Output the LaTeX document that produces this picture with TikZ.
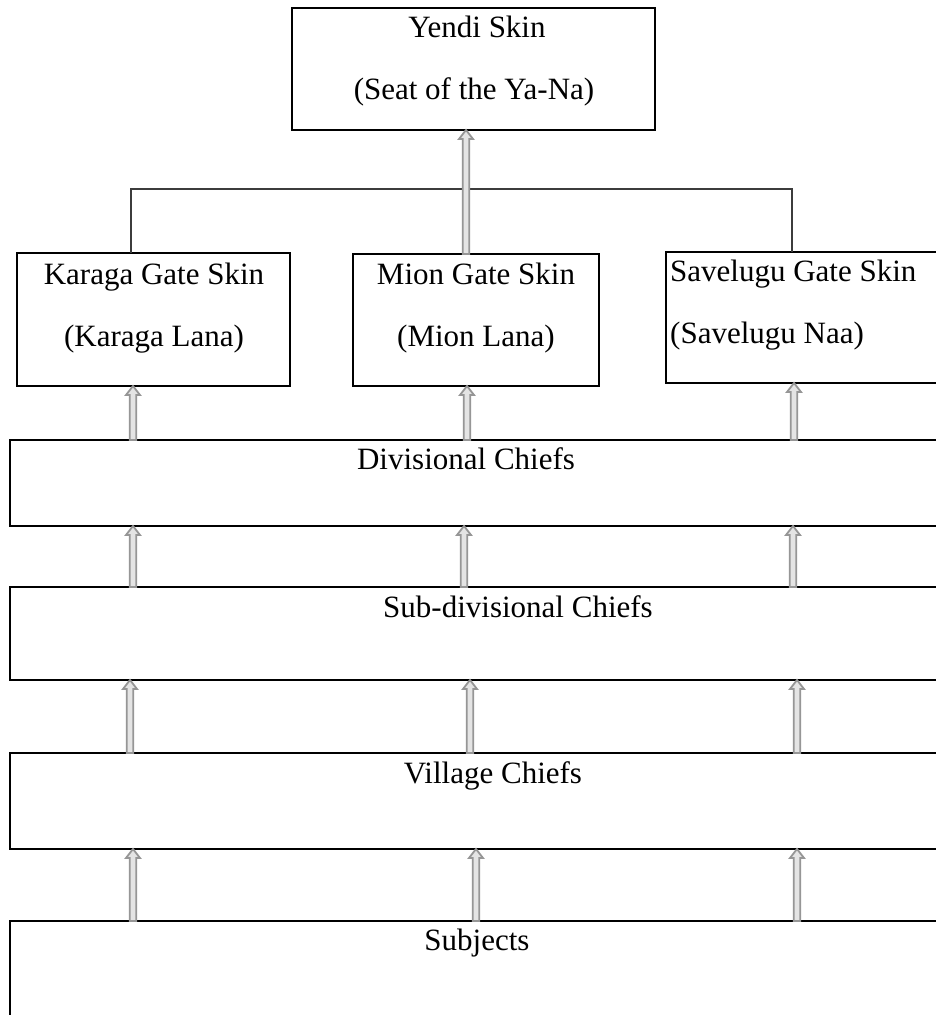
\documentclass[tikz,border=0pt]{standalone}
\usepackage{fontspec}
\setmainfont{Liberation Serif}
\usetikzlibrary{calc}
\definecolor{arrgray}{RGB}{150,150,150}
\definecolor{arrfill}{RGB}{228,228,228}
\definecolor{linegray}{RGB}{60,60,60}
\begin{document}
\begin{tikzpicture}[x=1pt,y=-1pt,
  box/.style={draw=black, line width=2pt, inner sep=0pt, outer sep=0pt, anchor=north west},
  lbl/.style={font=\fontsize{31}{36}\selectfont, inner sep=0pt, anchor=base},
  conn/.style={draw=linegray, line width=1.1pt},
  harrow/.style={draw=arrgray, fill=arrfill, line width=1.8pt, line join=miter,
    to path={let \p1=(\tikztostart), \p2=(\tikztotarget) in
      (\x1-3.2pt,\y1) -- (\x1-3.2pt,\y2-9pt) -- (\x1-7pt,\y2-9pt) -- (\x1,\y2)
      -- (\x1+7pt,\y2-9pt) -- (\x1+3.2pt,\y2-9pt) -- (\x1+3.2pt,\y1) -- cycle}}]
\useasboundingbox (0,0) rectangle (936,1015);
\clip (0,0) rectangle (936,1015);
\fill[white] (0,0) rectangle (936,1015);

% boxes
\node[box, minimum width=363pt, minimum height=122pt] (yendi) at (292,8) {};
\node[box, minimum width=273pt, minimum height=133pt] (karaga) at (17,253) {};
\node[box, minimum width=246pt, minimum height=132pt] (mion) at (353,254) {};
\node[box, minimum width=300pt, minimum height=131pt] (savelugu) at (666,252) {};
\node[box, minimum width=960pt, minimum height=86pt] (div) at (10,440) {};
\node[box, minimum width=960pt, minimum height=93pt] (sub) at (10,587) {};
\node[box, minimum width=960pt, minimum height=96pt] (village) at (10,753) {};
\node[box, minimum width=960pt, minimum height=150pt] (subjects) at (10,921) {};

% labels
\node[lbl] (yendi1) at (477,37) {Yendi Skin};
\node[lbl] (yendi2) at (474,99) {(Seat of the Ya-Na)};
\node[lbl] (kar1) at (154,284) {Karaga Gate Skin};
\node[lbl] (kar2) at (154,346) {(Karaga Lana)};
\node[lbl] (mion1) at (476,284) {Mion Gate Skin};
\node[lbl] (mion2) at (476,346) {(Mion Lana)};
\node[lbl, anchor=base west] (sav1) at (670,281) {Savelugu Gate Skin};
\node[lbl, anchor=base west] (sav2) at (670,343) {(Savelugu Naa)};
\node[lbl] (divT) at (466,469) {Divisional Chiefs};
\node[lbl] (subT) at (518,617) {Sub-divisional Chiefs};
\node[lbl] (vilT) at (493,783) {Village Chiefs};
\node[lbl] (subjT) at (477,950) {Subjects};

% connector from Yendi to the gates
\coordinate (hl) at (0,189);
\coordinate (vl) at (131,0);
\coordinate (vr) at (792,0);
\draw[conn] (karaga.north -| vl) -- (vl |- hl) -- (vr |- hl) -- (savelugu.north -| vr);

% arrow x positions
\coordinate (xt) at (466,0);
\coordinate (a1) at (133,0); \coordinate (a2) at (467,0); \coordinate (a3) at (794,0);
\coordinate (b1) at (133,0); \coordinate (b2) at (464,0); \coordinate (b3) at (793,0);
\coordinate (c1) at (130,0); \coordinate (c2) at (470,0); \coordinate (c3) at (797,0);
\coordinate (d1) at (133,0); \coordinate (d2) at (476,0); \coordinate (d3) at (797,0);

\draw[harrow] (mion.north -| xt) to (yendi.south -| xt);
\draw[harrow] (div.north -| a1) to (karaga.south -| a1);
\draw[harrow] (div.north -| a2) to (mion.south -| a2);
\draw[harrow] (div.north -| a3) to (savelugu.south -| a3);
\draw[harrow] (sub.north -| b1) to (div.south -| b1);
\draw[harrow] (sub.north -| b2) to (div.south -| b2);
\draw[harrow] (sub.north -| b3) to (div.south -| b3);
\draw[harrow] (village.north -| c1) to (sub.south -| c1);
\draw[harrow] (village.north -| c2) to (sub.south -| c2);
\draw[harrow] (village.north -| c3) to (sub.south -| c3);
\draw[harrow] (subjects.north -| d1) to (village.south -| d1);
\draw[harrow] (subjects.north -| d2) to (village.south -| d2);
\draw[harrow] (subjects.north -| d3) to (village.south -| d3);
\end{tikzpicture}
\end{document}
